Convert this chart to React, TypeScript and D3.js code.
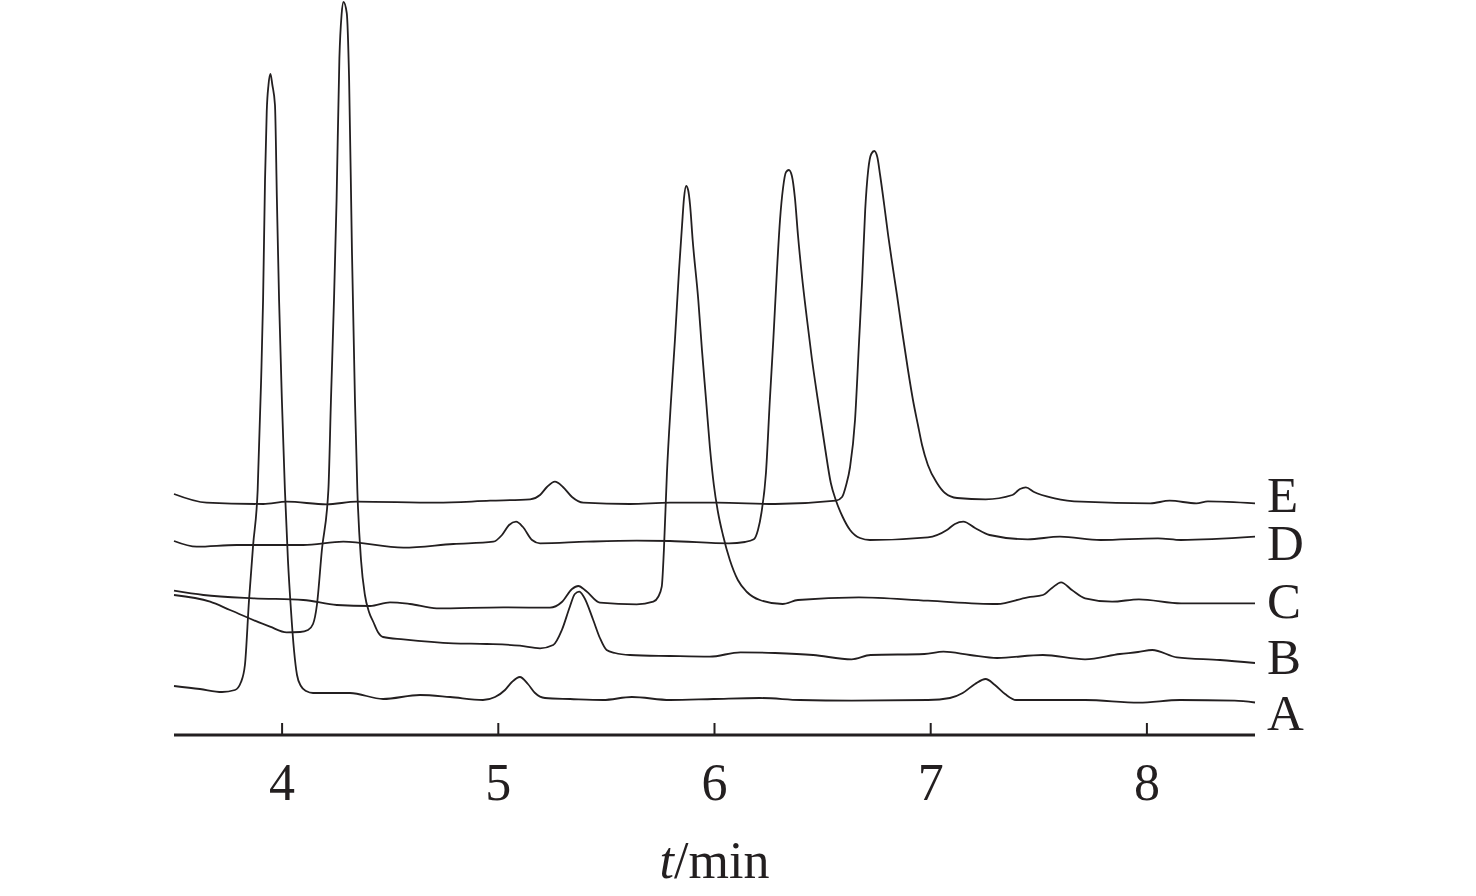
import React, { useEffect, useRef } from 'react';
import * as d3 from 'd3';

// retention time (min), detector response (arbitrary units)
const traceA: [number, number][] = [
  [3.5, 49], [3.62, 46], [3.722, 43], [3.782, 45], [3.81, 53], [3.828, 70], [3.847, 135],
  [3.866, 190], [3.887, 245], [3.903, 355], [3.912, 435], [3.921, 555], [3.929, 624],
  [3.937, 650], [3.946, 661], [3.955, 650], [3.967, 630], [3.976, 535], [3.986, 435],
  [3.999, 335], [4.013, 245], [4.027, 175], [4.041, 125], [4.055, 85], [4.069, 60],
  [4.087, 49], [4.111, 44], [4.143, 42], [4.314, 42], [4.467, 36], [4.638, 40], [4.777, 38],
  [4.929, 35], [4.985, 38], [5.031, 45], [5.063, 53], [5.1, 58], [5.137, 51], [5.17, 42],
  [5.216, 37], [5.332, 36], [5.484, 35], [5.618, 38], [5.794, 35], [5.996, 36], [6.209, 37],
  [6.395, 35], [6.634, 34.3], [6.987, 35], [7.089, 37], [7.148, 42], [7.205, 51], [7.254, 56],
  [7.297, 50], [7.344, 41], [7.395, 35], [7.552, 35], [7.714, 35], [7.963, 32.3], [8.153, 35],
  [8.406, 34.3], [8.5, 32.5],
];

const traceB: [number, number][] = [
  [3.5, 140], [3.667, 133.3], [3.759, 125], [3.944, 108.3], [4.021, 102.7], [4.083, 103],
  [4.12, 105], [4.143, 111], [4.161, 130], [4.184, 185], [4.214, 245], [4.226, 335],
  [4.24, 435], [4.252, 535], [4.265, 677], [4.275, 720], [4.284, 733], [4.299, 722],
  [4.31, 655], [4.323, 485], [4.337, 335], [4.348, 245], [4.365, 175], [4.383, 140],
  [4.402, 123], [4.422, 113], [4.443, 103], [4.467, 98], [4.561, 95.7], [4.792, 91.7],
  [4.946, 91], [5.1, 89.3], [5.193, 86.7], [5.254, 90], [5.294, 105], [5.331, 128.3],
  [5.354, 141], [5.374, 143.3], [5.396, 138], [5.439, 115], [5.47, 97], [5.501, 85],
  [5.54, 82], [5.609, 80], [5.794, 79], [5.978, 78.3], [6.12, 82.7], [6.28, 82], [6.456, 80],
  [6.634, 75.7], [6.722, 80], [6.971, 81], [7.059, 83.3], [7.182, 80], [7.307, 77],
  [7.519, 80], [7.714, 75.7], [7.875, 81], [7.959, 83], [8.025, 85], [8.139, 77.7],
  [8.338, 75], [8.5, 72],
];

const traceC: [number, number][] = [
  [3.5, 144.3], [3.636, 140], [3.867, 136.7], [4.098, 135], [4.253, 130], [4.407, 129],
  [4.499, 132.7], [4.592, 131], [4.715, 126.7], [5.023, 127.7], [5.239, 127.3], [5.294, 133],
  [5.341, 146], [5.37, 149], [5.406, 144], [5.47, 132.3], [5.64, 130.7], [5.717, 133.3],
  [5.739, 138], [5.756, 148.3], [5.766, 185], [5.78, 262], [5.799, 335], [5.817, 395],
  [5.836, 465], [5.85, 510], [5.859, 537], [5.869, 549], [5.878, 545], [5.887, 530],
  [5.899, 495], [5.925, 435], [5.942, 385], [5.961, 335], [5.979, 287], [5.997, 250],
  [6.016, 223], [6.039, 200], [6.071, 175], [6.108, 155], [6.15, 143], [6.21, 135],
  [6.315, 131], [6.386, 135], [6.668, 137.7],
  [6.987, 134.3], [7.307, 131], [7.449, 137.7], [7.519, 140], [7.561, 147], [7.603, 152.7],
  [7.653, 145], [7.714, 136.7], [7.839, 133.3], [7.963, 135.7], [8.158, 131.7], [8.5, 131.7],
];

const traceD: [number, number][] = [
  [3.5, 194], [3.605, 188.3], [3.79, 190], [4.098, 190], [4.283, 193.3], [4.561, 187.3],
  [4.792, 191], [4.977, 193.3], [5.017, 200], [5.05, 210], [5.082, 213.3], [5.114, 208],
  [5.156, 195], [5.193, 191.7], [5.409, 193.3], [5.64, 194.3], [5.794, 194], [6.067, 191.7],
  [6.141, 193], [6.182, 195.7], [6.201, 205], [6.217, 222], [6.238, 262], [6.256, 335],
  [6.272, 395], [6.289, 465], [6.303, 515], [6.317, 547], [6.331, 563], [6.344, 565],
  [6.358, 559], [6.372, 537], [6.386, 500], [6.404, 460], [6.427, 417], [6.45, 377],
  [6.478, 335], [6.51, 289], [6.538, 252], [6.561, 235], [6.593, 218], [6.627, 205],
  [6.673, 197], [6.719, 195], [6.987, 197.7], [7.075, 205], [7.112, 211], [7.151, 213.3], [7.205, 207],
  [7.272, 200], [7.449, 195.7], [7.598, 198.3], [7.786, 195], [8.051, 196.7], [8.158, 195],
  [8.5, 198.3],
];

const traceE: [number, number][] = [
  [3.5, 241], [3.651, 232.3], [3.913, 231], [4.021, 233.3], [4.206, 230.7], [4.345, 233.3],
  [4.715, 232.3], [4.962, 234.3], [5.147, 235.7], [5.193, 240], [5.225, 248], [5.262, 253.3],
  [5.299, 248], [5.341, 238], [5.393, 232.3], [5.609, 231], [5.794, 232.3], [6.014, 232.3],
  [6.28, 231], [6.562, 234.3], [6.59, 238], [6.609, 250], [6.627, 268], [6.65, 315],
  [6.669, 395], [6.683, 455], [6.697, 525], [6.711, 565], [6.725, 581], [6.739, 584],
  [6.753, 578], [6.766, 560], [6.785, 530], [6.803, 500], [6.821, 473], [6.844, 440],
  [6.867, 405], [6.895, 365], [6.918, 335], [6.941, 310], [6.96, 290], [6.987, 270],
  [7.029, 252], [7.066, 242], [7.122, 237], [7.254, 235.7],
  [7.378, 240], [7.413, 246], [7.44, 247.7], [7.478, 243], [7.573, 236.7], [7.697, 233.3],
  [8.016, 231.7], [8.105, 234.3], [8.229, 231.7], [8.282, 233.7], [8.5, 231.7],
];

const traces = [traceA, traceB, traceC, traceD, traceE];
const traceNames = ['A', 'B', 'C', 'D', 'E'];
// baseline level of each trace at the right end, where its label sits
const labelLevels = [5, 61, 117, 175, 223];
const xTicks = [4, 5, 6, 7, 8];
const xTitle = 'min';

const W = 1476;
const H = 896;

const App = () => {
  const ref = useRef<SVGSVGElement>(null);

  useEffect(() => {
    if (!ref.current) return;
    const svg = d3.select(ref.current);
    svg.selectAll('*').remove();

    const x = d3.scaleLinear().domain([3.5, 8.5]).range([174, 1255]);
    const y = d3.scaleLinear().domain([0, 735]).range([735, 0]);
    const font = '"Liberation Serif", "Times New Roman", serif';

    const line = d3.line<[number, number]>()
      .x(d => x(d[0]))
      .y(d => y(d[1]))
      .curve(d3.curveMonotoneX);

    // traces
    svg.append('g')
      .selectAll('path')
      .data(traces)
      .enter().append('path')
      .attr('d', d => line(d))
      .attr('fill', 'none')
      .attr('stroke', '#231f20')
      .attr('stroke-width', 1.8)
      .attr('stroke-linejoin', 'round');

    // trace labels
    svg.append('g')
      .selectAll('text')
      .data(traceNames)
      .enter().append('text')
      .attr('x', 1267)
      .attr('y', (d, i) => y(labelLevels[i]))
      .attr('font-family', font)
      .attr('font-size', 51)
      .attr('fill', '#231f20')
      .text(d => d);

    // x axis
    const axis = svg.append('g').attr('transform', `translate(0,${y(0)})`);
    axis.append('line')
      .attr('x1', x(3.5)).attr('x2', x(8.5))
      .attr('stroke', '#231f20').attr('stroke-width', 3);
    axis.selectAll('.tick')
      .data(xTicks)
      .enter().append('line')
      .attr('x1', d => x(d)).attr('x2', d => x(d))
      .attr('y1', 0).attr('y2', -12)
      .attr('stroke', '#231f20').attr('stroke-width', 2);
    axis.selectAll('.tick-label')
      .data(xTicks)
      .enter().append('text')
      .attr('x', d => x(d))
      .attr('y', 65)
      .attr('text-anchor', 'middle')
      .attr('font-family', font)
      .attr('font-size', 52)
      .attr('fill', '#231f20')
      .text(d => String(d));

    const title = axis.append('text')
      .attr('x', x(6))
      .attr('y', 143)
      .attr('text-anchor', 'middle')
      .attr('font-family', font)
      .attr('font-size', 52)
      .attr('fill', '#231f20');
    title.append('tspan').attr('font-style', 'italic').text('t');
    title.append('tspan').text('/' + xTitle);
  }, []);

  return (
    <svg
      ref={ref}
      width={W}
      height={H}
      style={{ position: 'absolute', left: 0, top: 0, background: '#fff' }}
    />
  );
};

export default App;
